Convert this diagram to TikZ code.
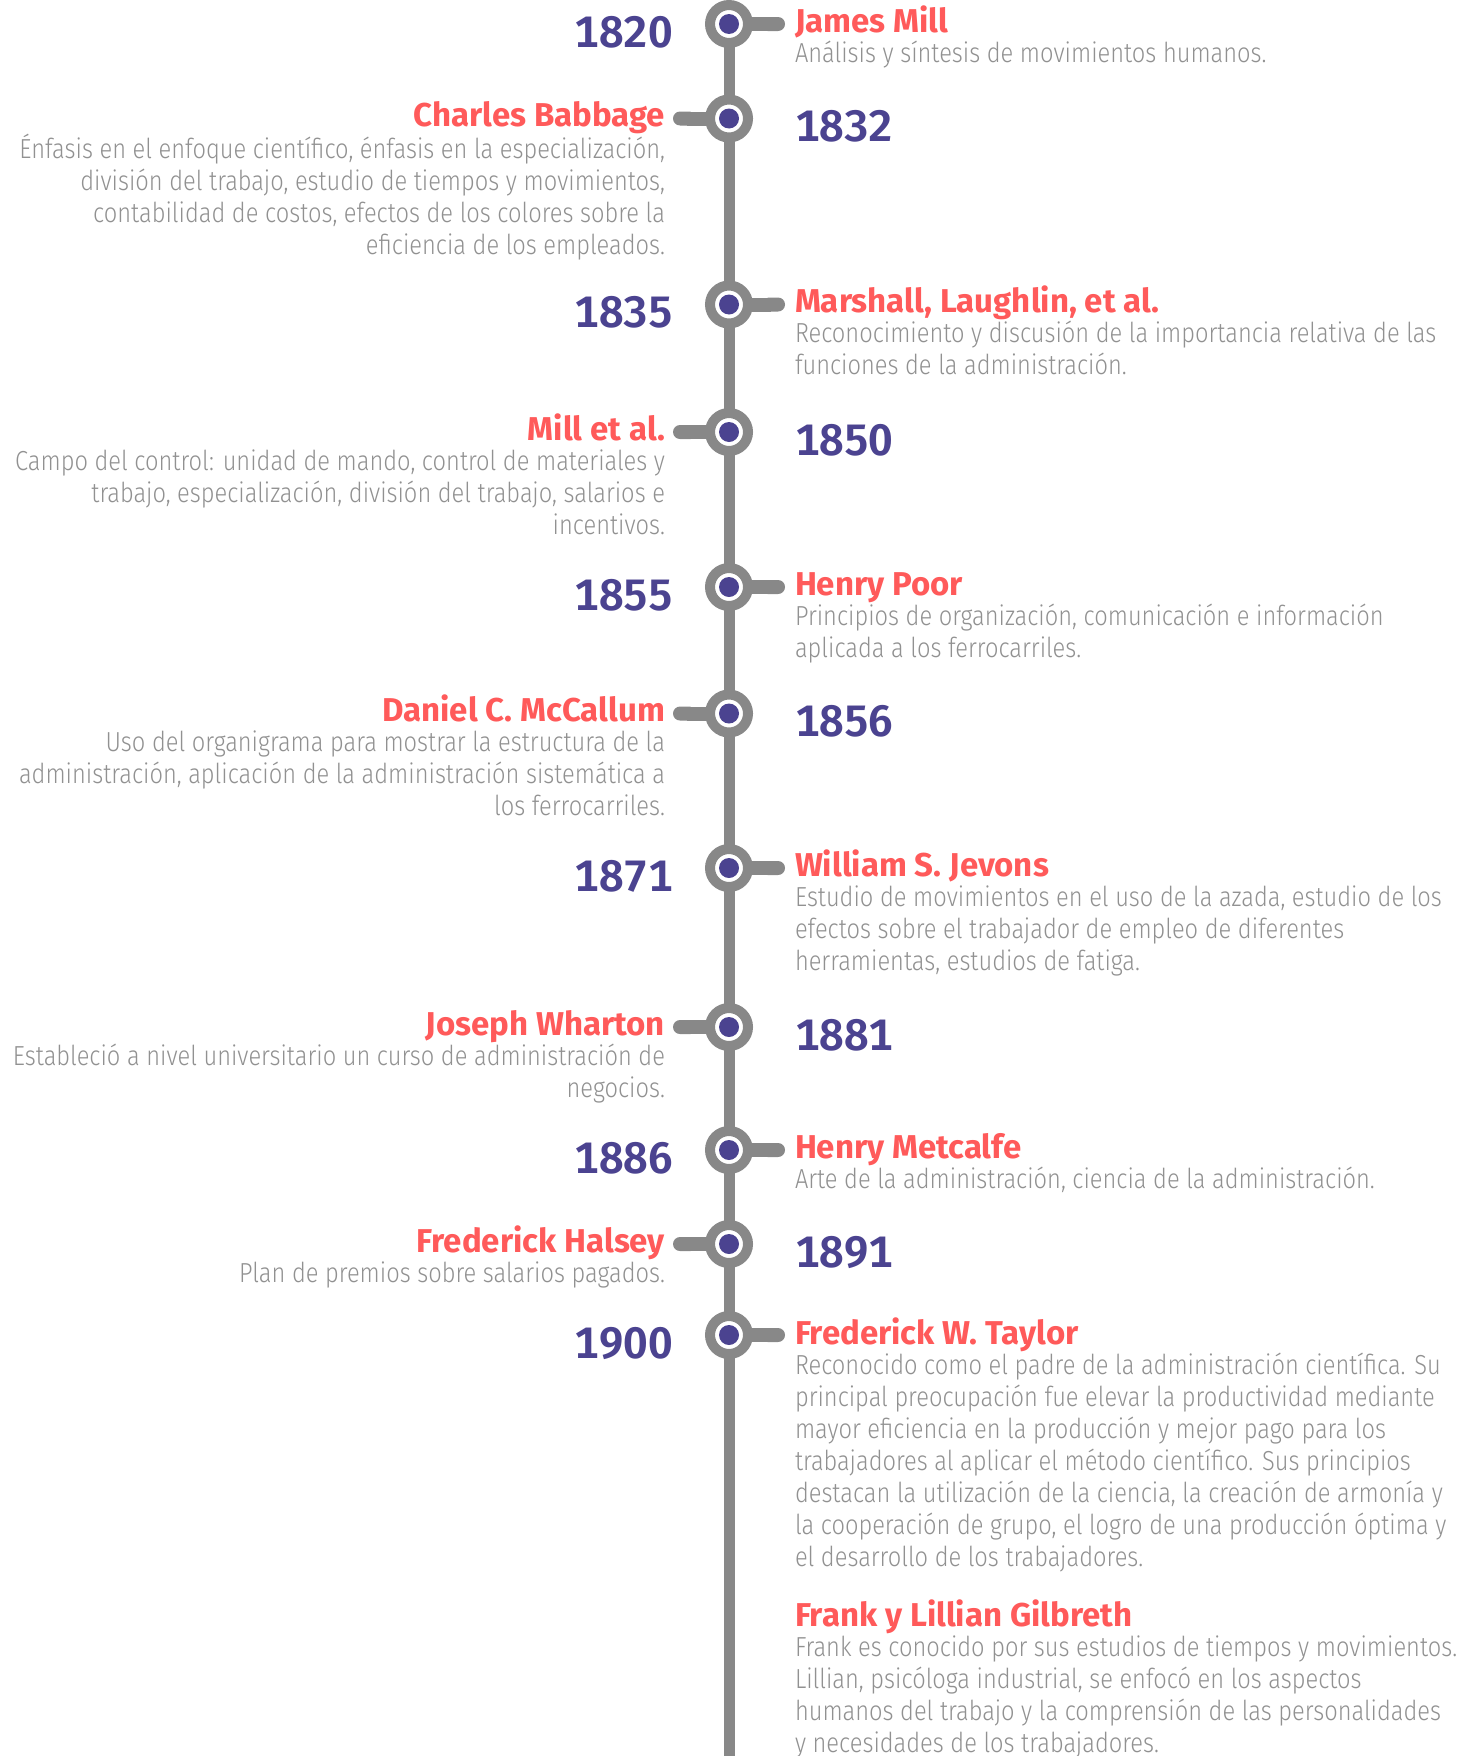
\documentclass[tikz,border=0pt]{standalone}
\usepackage{fontspec}
\setmainfont{Fira Sans}
\newfontfamily\namefont{Fira Sans}
\newfontfamily\yearfont{Fira Sans SemiBold}[Numbers=Monospaced]
\newfontfamily\descfont{Fira Sans Light}[FakeStretch=0.86]
\usetikzlibrary{positioning,arrows.meta}
\definecolor{cff5a5a}{RGB}{255,90,90}
\definecolor{c4b4390}{RGB}{75,67,144}
\definecolor{c888888}{RGB}{136,136,136}
\definecolor{c8c8c8c}{RGB}{145,145,145}

\tikzset{
  ring/.style={circle, fill=white, draw=c888888, line width=10pt, minimum size=38pt,
    path picture={\fill[c4b4390] (path picture bounding box.center) circle (10pt);}},
  stub/.style={draw=c888888, line width=14pt, -{Round Cap[]}},
  spine/.style={draw=c888888, line width=11pt},
  yearlabel/.style={font=\yearfont\fontsize{44}{44}\selectfont, text=c4b4390},
  personname/.style={font=\namefont\fontsize{33}{33}\selectfont\bfseries, text=cff5a5a},
  desctext/.style={font=\descfont\fontsize{27.5}{32}\selectfont, text=c8c8c8c},
}

\begin{document}
\begin{tikzpicture}[y=1pt,x=1pt,yscale=-1, inner sep=0pt, outer sep=0pt]
  \path[use as bounding box, fill=white] (0,0) rectangle (1466,1756);
  \coordinate (top) at (729,24);
  \coordinate (bottom) at (729,1756);
  \draw[spine] (top) -- (bottom);

  % points on the line
  \node[ring] (c1820) at (729,24) {};
  \node[ring] (c1832) at (729,118.5) {};
  \node[ring] (c1835) at (729,304.5) {};
  \node[ring] (c1850) at (729,432) {};
  \node[ring] (c1855) at (729,587) {};
  \node[ring] (c1856) at (729,713.5) {};
  \node[ring] (c1871) at (729,868) {};
  \node[ring] (c1881) at (729,1027) {};
  \node[ring] (c1886) at (729,1150) {};
  \node[ring] (c1891) at (729,1244) {};
  \node[ring] (c1900) at (729,1335) {};

  % stubs
  \coordinate (s1820) at (785,24);
  \coordinate (s1832) at (673,118.5);
  \coordinate (s1835) at (785,304.5);
  \coordinate (s1850) at (673,432);
  \coordinate (s1855) at (785,587);
  \coordinate (s1856) at (673,713.5);
  \coordinate (s1871) at (785,868);
  \coordinate (s1881) at (673,1027);
  \coordinate (s1886) at (785,1150);
  \coordinate (s1891) at (673,1244);
  \coordinate (s1900) at (785,1335);
  \draw[stub] (c1820.east) -- (s1820);
  \draw[stub] (c1832.west) -- (s1832);
  \draw[stub] (c1835.east) -- (s1835);
  \draw[stub] (c1850.west) -- (s1850);
  \draw[stub] (c1855.east) -- (s1855);
  \draw[stub] (c1856.west) -- (s1856);
  \draw[stub] (c1871.east) -- (s1871);
  \draw[stub] (c1881.west) -- (s1881);
  \draw[stub] (c1886.east) -- (s1886);
  \draw[stub] (c1891.west) -- (s1891);
  \draw[stub] (c1900.east) -- (s1900);

  % years
  \node[yearlabel, anchor=base east] (y1820) at (673,47) {1820};
  \node[yearlabel, anchor=base west] (y1832) at (795,141.5) {1832};
  \node[yearlabel, anchor=base east] (y1835) at (673,327.5) {1835};
  \node[yearlabel, anchor=base west] (y1850) at (795,455) {1850};
  \node[yearlabel, anchor=base east] (y1855) at (673,610) {1855};
  \node[yearlabel, anchor=base west] (y1856) at (795,736.5) {1856};
  \node[yearlabel, anchor=base east] (y1871) at (673,891) {1871};
  \node[yearlabel, anchor=base west] (y1881) at (795,1050) {1881};
  \node[yearlabel, anchor=base east] (y1886) at (673,1173) {1886};
  \node[yearlabel, anchor=base west] (y1891) at (795,1267) {1891};
  \node[yearlabel, anchor=base east] (y1900) at (673,1358) {1900};

  % names
  \node[personname, anchor=base west] (mill) at (795,32) {James Mill};
  \node[personname, anchor=base east] (babbage) at (665,126.5) {Charles Babbage};
  \node[personname, anchor=base west] (marshall) at (795,312.5) {Marshall, Laughlin, et al.};
  \node[personname, anchor=base east] (millal) at (665,440) {Mill et al.};
  \node[personname, anchor=base west] (poor) at (795,595) {Henry Poor};
  \node[personname, anchor=base east] (mccallum) at (665,721.5) {Daniel C. McCallum};
  \node[personname, anchor=base west] (jevons) at (795,876) {William S. Jevons};
  \node[personname, anchor=base east] (wharton) at (665,1035) {Joseph Wharton};
  \node[personname, anchor=base west] (metcalfe) at (795,1158) {Henry Metcalfe};
  \node[personname, anchor=base east] (halsey) at (665,1252) {Frederick Halsey};
  \node[personname, anchor=base west] (taylor) at (795,1344) {Frederick W. Taylor};
  \node[personname, anchor=base west] (gilbreth) at (795,1626) {Frank y Lillian Gilbreth};

  % texts
  \node[desctext, align=left, below right=8pt and 0pt of mill.base west] (milltext)
    {\strut Análisis y síntesis de movimientos humanos.};
  \node[desctext, align=right, below left=8pt and 0pt of babbage.base east] (babbagetext)
    {\strut Énfasis en el enfoque científico, énfasis en la especialización,\\
     división del trabajo, estudio de tiempos y movimientos,\\
     contabilidad de costos, efectos de los colores sobre la\\
     eficiencia de los empleados.};
  \node[desctext, align=left, below right=8pt and 0pt of marshall.base west] (marshalltext)
    {\strut Reconocimiento y discusión de la importancia relativa de las\\
     funciones de la administración.};
  \node[desctext, align=right, below left=8pt and 0pt of millal.base east] (millaltext)
    {\strut Campo del control: unidad de mando, control de materiales y\\
     trabajo, especialización, división del trabajo, salarios e\\
     incentivos.};
  \node[desctext, align=left, below right=8pt and 0pt of poor.base west] (poortext)
    {\strut Principios de organización, comunicación e información\\
     aplicada a los ferrocarriles.};
  \node[desctext, align=right, below left=8pt and 0pt of mccallum.base east] (mccallumtext)
    {\strut Uso del organigrama para mostrar la estructura de la\\
     administración, aplicación de la administración sistemática a\\
     los ferrocarriles.};
  \node[desctext, align=left, below right=8pt and 0pt of jevons.base west] (jevonstext)
    {\strut Estudio de movimientos en el uso de la azada, estudio de los\\
     efectos sobre el trabajador de empleo de diferentes\\
     herramientas, estudios de fatiga.};
  \node[desctext, align=right, below left=8pt and 0pt of wharton.base east] (whartontext)
    {\strut Estableció a nivel universitario un curso de administración de\\
     negocios.};
  \node[desctext, align=left, below right=8pt and 0pt of metcalfe.base west] (metcalfetext)
    {\strut Arte de la administración, ciencia de la administración.};
  \node[desctext, align=right, below left=8pt and 0pt of halsey.base east] (halseytext)
    {\strut Plan de premios sobre salarios pagados.};
  \node[desctext, align=left, below right=8pt and 0pt of taylor.base west] (taylortext)
    {\strut Reconocido como el padre de la administración científica. Su\\
     principal preocupación fue elevar la productividad mediante\\
     mayor eficiencia en la producción y mejor pago para los\\
     trabajadores al aplicar el método científico. Sus principios\\
     destacan la utilización de la ciencia, la creación de armonía y\\
     la cooperación de grupo, el logro de una producción óptima y\\
     el desarrollo de los trabajadores.};
  \node[desctext, align=left, below right=8pt and 0pt of gilbreth.base west] (gilbrethtext)
    {\strut Frank es conocido por sus estudios de tiempos y movimientos.\\
     Lillian, psicóloga industrial, se enfocó en los aspectos\\
     humanos del trabajo y la comprensión de las personalidades\\
     y necesidades de los trabajadores.};

\end{tikzpicture}
\end{document}
